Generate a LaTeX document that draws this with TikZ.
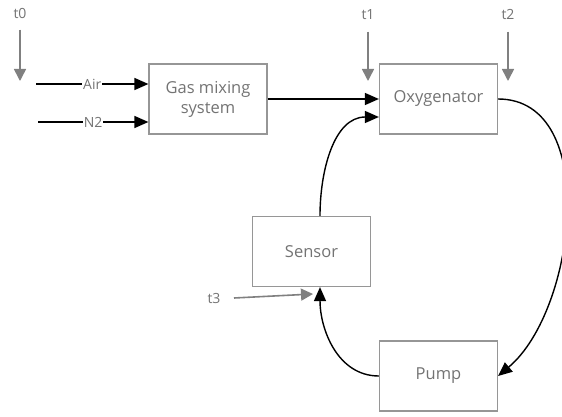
\documentclass[tikz,border=0pt]{standalone}
\usepackage{fontspec}
\setmainfont{Open Sans}
\usetikzlibrary{arrows.meta}
\definecolor{boxgray}{RGB}{150,150,150}
\definecolor{textgray}{RGB}{115,115,115}
\definecolor{probegray}{RGB}{128,128,128}

\begin{document}
\begin{tikzpicture}[
      x=1pt, y=-1pt,
      every node/.style={font=\fontsize{16.5}{20}\selectfont, text=textgray},
      unit/.style={draw=boxgray, line width=1.2pt, align=center, minimum width=118pt, minimum height=70pt, inner sep=2pt},
      probe/.style={font=\fontsize{14}{16}\selectfont, text=textgray},
      flow/.style={-{Triangle[length=14pt, width=12pt]}, line width=1.4pt, black},
      timing/.style={-{Triangle[length=12pt, width=12pt]}, line width=1.6pt, probegray}
  ]
    \useasboundingbox (0,0) rectangle (562,417);
    \node[unit] (mix) at (208,99) {Gas mixing\\system};
    \node[unit] (oxy) at (438.5,99) {Oxygenator};
    \node[unit] (sensor) at (311.5,251.5) {Sensor};
    \node[unit] (pump) at (438.5,376) {Pump};
    % gas inlets
    \coordinate (airin) at (36,84);
    \coordinate (n2in) at (38,122);
    \draw[flow] (airin) -- node[fill=white, inner sep=1pt, font=\fontsize{14}{16}\selectfont] {Air} (mix.west |- airin);
    \draw[flow] (n2in) -- node[fill=white, inner sep=1pt, font=\fontsize{14}{16}\selectfont] {N2} (mix.west |- n2in);
    % circuit
    \draw[flow] (mix) -- (oxy);
    \draw[flow] (sensor.north -| 320,0) to[out=90, in=180] (oxy.west |- 0,117);
    \draw[flow] (oxy.east) to[out=0, in=40, looseness=0.95] (pump.east);
    \draw[flow] (pump.west) to[out=180, in=-90] (sensor.south -| 320,0);
    % sampling times
    \node[probe] (t0) at (20,13) {t0};
    \node[probe] (t1) at (368,15) {t1};
    \node[probe] (t2) at (508,15) {t2};
    \node[probe] (t3) at (214,298) {t3};
    \coordinate (t0end) at (20,81);
    \coordinate (t1end) at (368,81);
    \coordinate (t2end) at (508,81);
    \coordinate (t3end) at (313,294);
    \draw[timing] (t0.south) ++(0,8) -- (t0end);
    \draw[timing] (t1.south) ++(0,8) -- (t1end);
    \draw[timing] (t2.south) ++(0,8) -- (t2end);
    \draw[timing] (t3.east) ++(10,0) -- (t3end);
\end{tikzpicture}
\end{document}
